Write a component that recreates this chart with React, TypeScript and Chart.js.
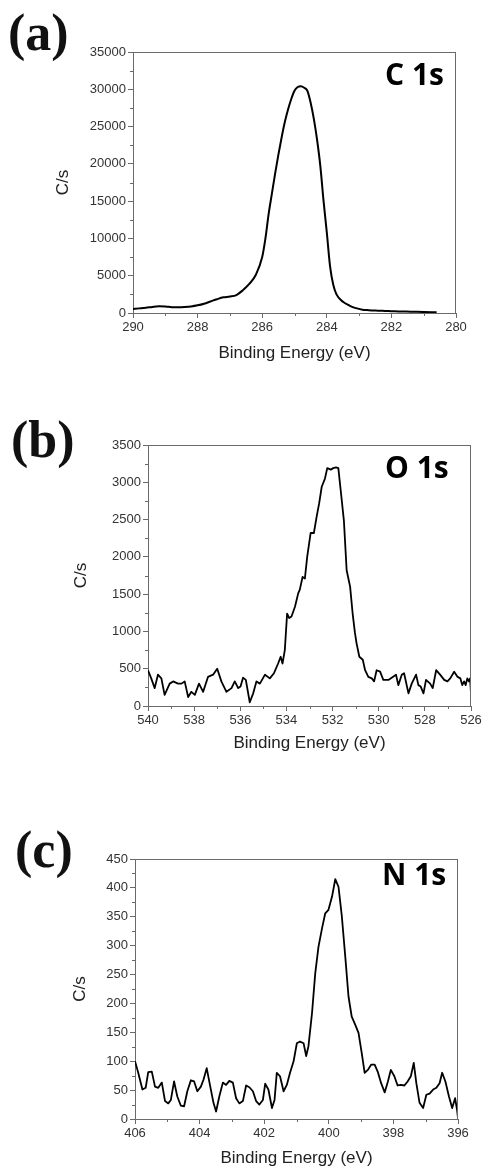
import React, { useEffect, useRef } from "react";
import { Chart, registerables } from "chart.js";

Chart.register(...registerables);

// ---------- data ----------
const c1sEnergy = [
  290.0, 289.8, 289.6, 289.4, 289.2, 289.0, 288.8, 288.6, 288.4, 288.2,
  288.0, 287.8, 287.6, 287.4, 287.2, 287.0, 286.8, 286.6, 286.4, 286.2,
  286.0, 285.9, 285.8, 285.7, 285.6, 285.5, 285.4, 285.3, 285.2, 285.1,
  285.0, 284.9, 284.8, 284.7, 284.6, 284.5, 284.4, 284.3, 284.2, 284.1,
  284.0, 283.9, 283.8, 283.7, 283.5, 283.3, 283.1, 282.9, 282.7, 282.5,
  282.2, 282.0, 281.7, 281.4, 281.0, 280.6,
];
const c1sCounts = [
  550, 620, 700, 820, 900, 880, 780, 760, 800, 880,
  1030, 1250, 1550, 1850, 2100, 2200, 2400, 3050, 3900, 5100,
  7500, 10000, 13300, 16000, 18700, 21200, 23500, 25600, 27300, 28700,
  29800, 30300, 30400, 30200, 29800, 28200, 26000, 23200, 19700, 15000,
  10800, 6300, 3800, 2500, 1500, 1000, 650, 450, 380, 330,
  280, 250, 200, 180, 130, 100,
];

const o1sEnergy = [
  540.0, 539.86, 539.71, 539.57, 539.42, 539.28, 539.06, 538.91, 538.7, 538.55,
  538.41, 538.26, 538.12, 537.97, 537.79, 537.61, 537.4, 537.18, 537.0, 536.82,
  536.6, 536.38, 536.24, 536.09, 535.99, 535.88, 535.76, 535.59, 535.44, 535.3,
  535.15, 534.93, 534.72, 534.54, 534.36, 534.25, 534.17, 534.07, 533.97, 533.88,
  533.78, 533.63, 533.49, 533.42, 533.3, 533.2, 533.1, 532.95, 532.81, 532.69,
  532.58, 532.47, 532.33, 532.23, 532.08, 531.97, 531.85, 531.75, 531.65, 531.51,
  531.39, 531.24, 531.13, 531.03, 530.96, 530.84, 530.69, 530.59, 530.45, 530.3,
  530.2, 530.09, 529.94, 529.8, 529.58, 529.39, 529.25, 529.15, 529.0, 528.9,
  528.71, 528.57, 528.38, 528.28, 528.18, 528.06, 527.95, 527.77, 527.66, 527.51,
  527.34, 527.16, 527.02, 526.9, 526.73, 526.58, 526.46, 526.38, 526.3, 526.23,
  526.16, 526.09, 526.04, 526.0,
];
const o1sCounts = [
  480, 370, 240, 420, 370, 150, 300, 330, 300, 300,
  330, 120, 190, 150, 300, 190, 390, 420, 500, 330,
  190, 240, 330, 240, 260, 380, 350, 50, 170, 330,
  300, 420, 370, 440, 570, 660, 570, 750, 1240, 1180,
  1200, 1330, 1510, 1560, 1730, 1710, 2000, 2320, 2320, 2540,
  2720, 2940, 3050, 3190, 3170, 3190, 3200, 3190, 2900, 2490,
  1820, 1600, 1240, 980, 840, 660, 620, 480, 390, 370,
  330, 480, 460, 350, 350, 390, 420, 280, 420, 440,
  170, 300, 420, 280, 260, 170, 350, 300, 240, 480,
  420, 350, 330, 370, 460, 390, 370, 280, 330, 280,
  370, 330, 370, 170,
];

const n1sEnergy = [
  406.0, 405.9, 405.77, 405.67, 405.59, 405.48, 405.38, 405.28, 405.17, 405.07,
  404.97, 404.89, 404.79, 404.69, 404.58, 404.48, 404.38, 404.27, 404.17, 404.07,
  403.96, 403.88, 403.78, 403.68, 403.57, 403.49, 403.39, 403.28, 403.18, 403.08,
  402.97, 402.87, 402.77, 402.66, 402.56, 402.46, 402.35, 402.25, 402.15, 402.04,
  401.97, 401.87, 401.76, 401.68, 401.61, 401.51, 401.4, 401.3, 401.2, 401.09,
  400.99, 400.89, 400.78, 400.7, 400.63, 400.52, 400.42, 400.32, 400.21, 400.11,
  400.01, 399.9, 399.8, 399.7, 399.6, 399.49, 399.39, 399.29, 399.18, 399.08,
  398.98, 398.89, 398.79, 398.69, 398.58, 398.48, 398.38, 398.27, 398.17, 398.08,
  397.97, 397.87, 397.77, 397.66, 397.56, 397.46, 397.37, 397.29, 397.19, 397.08,
  396.98, 396.88, 396.77, 396.67, 396.57, 396.49, 396.39, 396.28, 396.18, 396.09,
  396.03, 396.0,
];
const n1sCounts = [
  100, 80, 51, 54, 81, 82, 56, 54, 63, 31,
  27, 33, 65, 39, 23, 22, 48, 67, 65, 48,
  56, 68, 88, 59, 28, 13, 39, 63, 59, 66,
  63, 36, 27, 31, 58, 55, 48, 31, 25, 33,
  61, 51, 19, 33, 80, 74, 48, 59, 80, 100,
  131, 134, 131, 109, 126, 183, 252, 298, 330, 356,
  362, 385, 415, 402, 353, 281, 212, 177, 163, 149,
  114, 80, 85, 94, 94, 81, 62, 46, 65, 85,
  74, 58, 59, 58, 65, 74, 97, 62, 28, 19,
  42, 44, 51, 54, 62, 80, 65, 39, 19, 36,
  16, 2,
];

const panelTags = ["(a)", "(b)", "(c)"];
const peakLabels = ["C 1s", "O 1s", "N 1s"];
const xAxisTitle = "Binding Energy (eV)";
const yAxisTitle = "C/s";

// ---------- styling / layout ----------
const AXIS_COLOR = "#6a6a6a";
const TICK_COLOR = "#333333";
const TITLE_COLOR = "#222222";
const TITLE_FONT = 17;
const TITLE_LH = TITLE_FONT * 1.2;

type Panel = {
  top: number;
  height: number;
  area: { left: number; right: number; top: number; bottom: number };
  yTitleX: number;
  xTitleY: number;
  xMin: number;
  xMax: number;
  yMax: number;
  yStep: number;
  energy: number[];
  counts: number[];
  smooth: boolean;
  lineWidth: number;
  tag: string;
  tagX: number;
  tagBase: number;
  label: string;
  labelX: number;
  labelBase: number;
};

const panels: Panel[] = [
  {
    top: 0, height: 380,
    area: { left: 133, right: 456, top: 52, bottom: 313 },
    yTitleX: 63.5, xTitleY: 353,
    xMin: 280, xMax: 290, yMax: 35000, yStep: 5000,
    energy: c1sEnergy, counts: c1sCounts, smooth: true, lineWidth: 2,
    tag: panelTags[0], tagX: 8, tagBase: 50,
    label: peakLabels[0], labelX: 385, labelBase: 85,
  },
  {
    top: 380, height: 390,
    area: { left: 148, right: 471, top: 65, bottom: 326 },
    yTitleX: 81, xTitleY: 363,
    xMin: 526, xMax: 540, yMax: 3500, yStep: 500,
    energy: o1sEnergy, counts: o1sCounts, smooth: false, lineWidth: 1.8,
    tag: panelTags[1], tagX: 11, tagBase: 77,
    label: peakLabels[1], labelX: 385, labelBase: 98,
  },
  {
    top: 780, height: 391,
    area: { left: 135, right: 458, top: 79, bottom: 339 },
    yTitleX: 80, xTitleY: 378,
    xMin: 396, xMax: 406, yMax: 450, yStep: 50,
    energy: n1sEnergy, counts: n1sCounts, smooth: false, lineWidth: 1.8,
    tag: panelTags[2], tagX: 15, tagBase: 87,
    label: peakLabels[2], labelX: 382, labelBase: 105,
  },
];

const WIDTH = 484;

function PanelChart({ p }: { p: Panel }) {
  const ref = useRef<HTMLCanvasElement | null>(null);

  useEffect(() => {
    if (!ref.current) return;
    const a = p.area;
    const yWidth = a.left - (p.yTitleX - TITLE_LH / 2);
    const padLeft = p.yTitleX - TITLE_LH / 2;
    const xHeight = p.xTitleY + TITLE_LH / 2 - a.bottom;
    const padBottom = p.height - a.bottom - xHeight;

    const extras = {
      id: "extras",
      afterDraw(chart: any) {
        const { ctx, chartArea: ca, scales } = chart;
        const xs = scales.x;
        const ys = scales.y;
        ctx.save();
        ctx.strokeStyle = AXIS_COLOR;
        ctx.lineWidth = 1;
        ctx.beginPath();
        ctx.moveTo(ca.left, Math.round(ca.top) + 0.5);
        ctx.lineTo(ca.right, Math.round(ca.top) + 0.5);
        ctx.moveTo(Math.round(ca.right) - 0.5, ca.top);
        ctx.lineTo(Math.round(ca.right) - 0.5, ca.bottom);
        // minor x ticks
        for (let v = p.xMin + 1; v < p.xMax; v += 2) {
          const px = Math.round(xs.getPixelForValue(v)) + 0.5;
          ctx.moveTo(px, ca.bottom);
          ctx.lineTo(px, ca.bottom + 3);
        }
        // minor y ticks
        for (let v = p.yStep / 2; v < p.yMax; v += p.yStep) {
          const py = Math.round(ys.getPixelForValue(v)) + 0.5;
          ctx.moveTo(ca.left, py);
          ctx.lineTo(ca.left - 3, py);
        }
        ctx.stroke();

        ctx.fillStyle = "#111111";
        ctx.textBaseline = "alphabetic";
        ctx.textAlign = "left";
        ctx.font = "bold 52px 'Liberation Serif', 'DejaVu Serif', serif";
        ctx.fillText(p.tag, p.tagX, p.tagBase);
        ctx.fillStyle = "#000000";
        ctx.font = "bold 30px 'Open Sans', 'Noto Sans', sans-serif";
        ctx.fillText(p.label, p.labelX, p.labelBase);
        ctx.restore();
      },
    };

    const chart = new Chart(ref.current, {
      type: "line",
      data: {
        datasets: [
          {
            data: p.energy.map((e, i) => ({ x: e, y: p.counts[i] })),
            borderColor: "#000000",
            borderWidth: p.lineWidth,
            pointRadius: 0,
            fill: false,
            tension: p.smooth ? 0.4 : 0,
            cubicInterpolationMode: p.smooth ? "monotone" : "default",
            borderJoinStyle: "round",
          },
        ],
      },
      options: {
        responsive: false,
        animation: false,
        devicePixelRatio: 1,
        layout: {
          padding: {
            left: padLeft,
            right: WIDTH - a.right,
            top: a.top,
            bottom: padBottom,
          },
        },
        plugins: {
          legend: { display: false },
          tooltip: { enabled: false },
          title: { display: false },
        },
        scales: {
          x: {
            type: "linear",
            reverse: true,
            min: p.xMin,
            max: p.xMax,
            afterFit: (s: any) => {
              s.height = xHeight;
            },
            ticks: {
              stepSize: 2,
              color: TICK_COLOR,
              padding: 2,
              maxRotation: 0,
              font: { family: "'Liberation Sans', Arial, sans-serif", size: 13 },
              callback: (v: any) => String(v),
            },
            grid: {
              display: true,
              drawOnChartArea: false,
              drawTicks: true,
              tickLength: 5,
              color: AXIS_COLOR,
            },
            border: { display: true, color: AXIS_COLOR, width: 1 },
            title: {
              display: true,
              text: xAxisTitle,
              color: TITLE_COLOR,
              padding: 0,
              font: { family: "'Liberation Sans', Arial, sans-serif", size: TITLE_FONT, lineHeight: 1.2 },
            },
          },
          y: {
            type: "linear",
            min: 0,
            max: p.yMax,
            afterFit: (s: any) => {
              s.width = yWidth;
            },
            ticks: {
              stepSize: p.yStep,
              color: TICK_COLOR,
              padding: 2,
              font: { family: "'Liberation Sans', Arial, sans-serif", size: 13 },
              callback: (v: any) => String(v),
            },
            grid: {
              display: true,
              drawOnChartArea: false,
              drawTicks: true,
              tickLength: 5,
              color: AXIS_COLOR,
            },
            border: { display: true, color: AXIS_COLOR, width: 1 },
            title: {
              display: true,
              text: yAxisTitle,
              color: TITLE_COLOR,
              padding: 0,
              font: { family: "'Liberation Sans', Arial, sans-serif", size: TITLE_FONT, lineHeight: 1.2 },
            },
          },
        },
      },
      plugins: [extras],
    } as any);

    return () => {
      chart.destroy();
    };
  }, [p]);

  return (
    <div style={{ position: "absolute", left: 0, top: p.top, width: WIDTH, height: p.height }}>
      <canvas ref={ref} width={WIDTH} height={p.height} style={{ width: WIDTH, height: p.height, display: "block" }} />
    </div>
  );
}

export default function App() {
  return (
    <div style={{ position: "absolute", left: 0, top: 0, width: WIDTH, height: 1171, background: "#ffffff" }}>
      {panels.map((p, i) => (
        <PanelChart key={i} p={p} />
      ))}
    </div>
  );
}
